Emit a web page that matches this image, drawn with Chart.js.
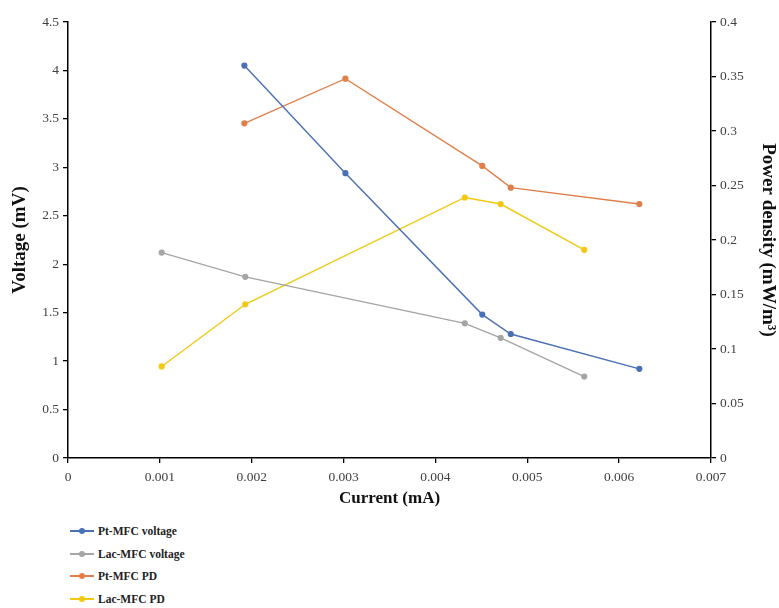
<!DOCTYPE html>
<html>
<head>
<meta charset="utf-8">
<script src="https://cdn.jsdelivr.net/npm/chart.js@4"></script>
<style>
  body { margin: 0; background: #fff; width: 779px; height: 608px; overflow: hidden; }
  #wrap { position: relative; width: 779px; height: 513px; }
  #legend { position: absolute; left: 70px; top: 520px; font-family: "Liberation Serif", serif; font-weight: bold; font-size: 11.5px; color: #222; }
  .item { display: flex; align-items: center; height: 22.6px; }
  .swatch { position: relative; width: 24px; height: 2px; margin-right: 4px; }
  .swatch span { position: absolute; left: 9px; top: -2px; width: 6px; height: 6px; border-radius: 50%; }
</style>
</head>
<body>
<div id="wrap"><canvas id="chart"></canvas></div>
<div id="legend"></div>
<script>
// values
const ptCurrent = [0.00192, 0.00302, 0.00451, 0.00482, 0.00622];
const lacCurrent = [0.00102, 0.00193, 0.00432, 0.00471, 0.00562];
const ptVoltage = [4.05, 2.94, 1.48, 1.28, 0.92];
const lacVoltage = [2.12, 1.87, 1.39, 1.24, 0.84];
const ptPD = [0.307, 0.348, 0.268, 0.248, 0.233];
const lacPD = [0.084, 0.141, 0.239, 0.233, 0.191];
const seriesNames = ['Pt-MFC voltage', 'Lac-MFC voltage', 'Pt-MFC PD', 'Lac-MFC PD'];

const colors = ['#4a70b5', '#a5a5a5', '#e07f4a', '#f2c814'];

const pts = (xs, ys) => xs.map((x, i) => ({ x: x, y: ys[i] }));

const serif = '"Liberation Serif", "Times New Roman", serif';

const makeSet = (i, data, axis) => ({
    label: seriesNames[i],
    data: data,
    yAxisID: axis,
    borderColor: colors[i],
    backgroundColor: colors[i],
    borderWidth: 1.4,
    pointRadius: 2.4,
    pointHoverRadius: 3,
    tension: 0
});

const axisStyle = {
    border: { color: '#000', width: 1.5 },
    grid: { drawOnChartArea: false, drawTicks: true, tickLength: 5, color: '#000', lineWidth: 1.3 },
    ticks: { color: '#404040', font: { family: serif, size: 13.5 }, padding: 4 }
};

const ctx = document.getElementById('chart').getContext('2d');
const chart = new Chart(ctx, {
    type: 'line',
    data: {
        datasets: [
            makeSet(0, pts(ptCurrent, ptVoltage), 'yV'),
            makeSet(1, pts(lacCurrent, lacVoltage), 'yV'),
            makeSet(2, pts(ptCurrent, ptPD), 'yP'),
            makeSet(3, pts(lacCurrent, lacPD), 'yP')
        ]
    },
    options: {
        responsive: true,
        maintainAspectRatio: false,
        animation: false,
        layout: { padding: { top: 22, left: 0, right: 0, bottom: 0 } },
        plugins: { legend: { display: false }, tooltip: { enabled: false } },
        scales: {
            x: {
                type: 'linear',
                min: 0, max: 0.007,
                ...axisStyle,
                ticks: { ...axisStyle.ticks, stepSize: 0.001, padding: 6, callback: v => String(+v.toFixed(3)) },
                title: { display: true, text: 'Current (mA)', color: '#111', font: { family: serif, size: 17, weight: 'bold' }, padding: { top: 0 } },
                afterFit: s => { s.height = 55; }
            },
            yV: {
                type: 'linear',
                position: 'left',
                min: 0, max: 4.5,
                ...axisStyle,
                ticks: { ...axisStyle.ticks, stepSize: 0.5, callback: v => String(+v.toFixed(1)) },
                title: { display: true, text: 'Voltage (mV)', color: '#111', font: { family: serif, size: 19, weight: 'bold' }, padding: { top: 9, bottom: 0 } },
                afterFit: s => { s.width = 68; }
            },
            yP: {
                type: 'linear',
                position: 'right',
                min: 0, max: 0.4,
                ...axisStyle,
                ticks: { ...axisStyle.ticks, stepSize: 0.05, callback: v => String(+v.toFixed(2)) },
                title: { display: true, text: 'Power density (mW/m³)', color: '#111', font: { family: serif, size: 19, weight: 'bold' }, padding: { top: 0, bottom: 0 } },
                afterFit: s => { s.width = 68; }
            }
        }
    }
});

// legend stacked under the plot, like the original
const legend = document.getElementById('legend');
chart.data.datasets.forEach(ds => {
    const row = document.createElement('div');
    row.className = 'item';
    const sw = document.createElement('div');
    sw.className = 'swatch';
    sw.style.background = ds.borderColor;
    const dot = document.createElement('span');
    dot.style.background = ds.borderColor;
    sw.appendChild(dot);
    row.appendChild(sw);
    row.appendChild(document.createTextNode(ds.label));
    legend.appendChild(row);
});
</script>
</body>
</html>
